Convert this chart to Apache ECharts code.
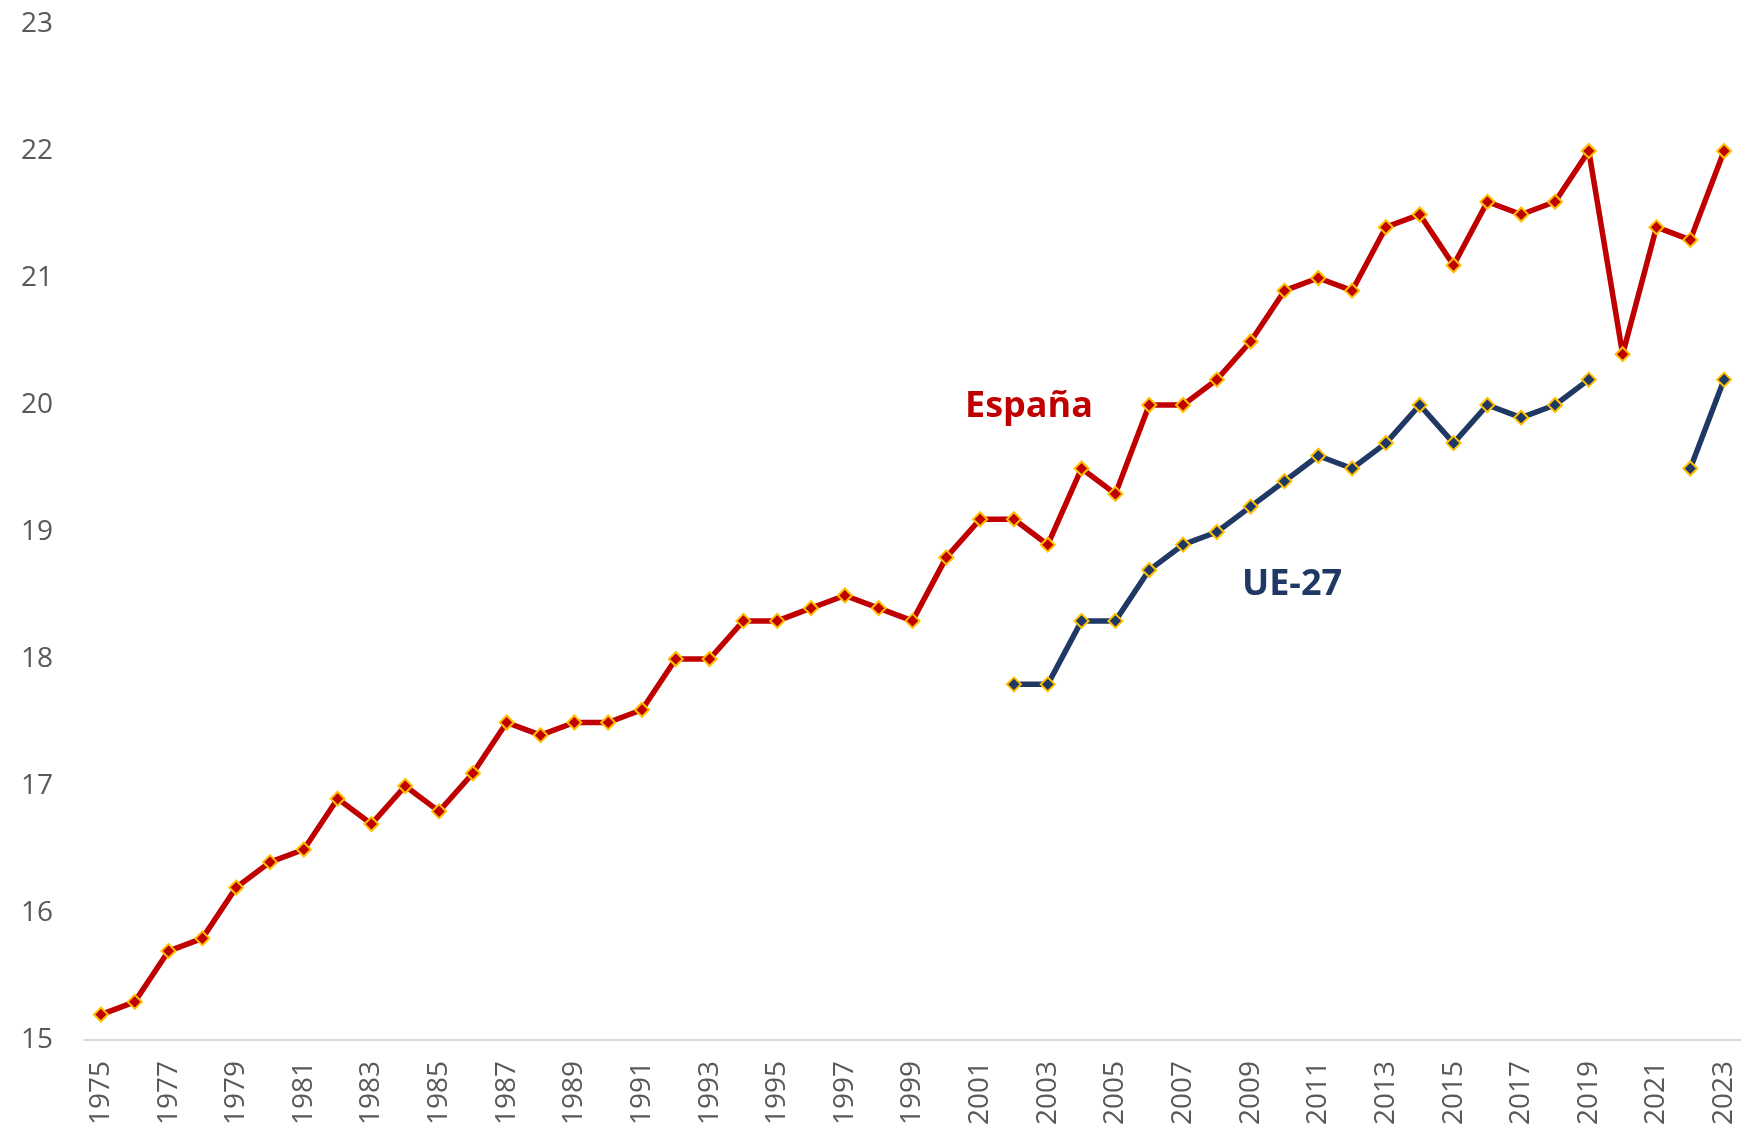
<!DOCTYPE html>
<html>
<head>
<meta charset="utf-8">
<script src="https://cdn.jsdelivr.net/npm/echarts@6/dist/echarts.min.js"></script>
<style>
html,body{margin:0;padding:0;background:#fff;}
#c{width:1741px;height:1128px;}
</style>
</head>
<body>
<div id="c"></div>
<script>
var years = [];
for (var y = 1975; y <= 2023; y++) years.push(String(y));

var espana = [15.2,15.3,15.7,15.8,16.2,16.4,16.5,16.9,16.7,17.0,
              16.8,17.1,17.5,17.4,17.5,17.5,17.6,18.0,18.0,18.3,
              18.3,18.4,18.5,18.4,18.3,18.8,19.1,19.1,18.9,19.5,
              19.3,20.0,20.0,20.2,20.5,20.9,21.0,20.9,21.4,21.5,
              21.1,21.6,21.5,21.6,22.0,20.4,21.4,21.3,22.0];

var ue27 = [null,null,null,null,null,null,null,null,null,null,
            null,null,null,null,null,null,null,null,null,null,
            null,null,null,null,null,null,null,17.8,17.8,18.3,
            18.3,18.7,18.9,19.0,19.2,19.4,19.6,19.5,19.7,20.0,
            19.7,20.0,19.9,20.0,20.2,null,null,19.5,20.2];

var yMin = 15, yMax = 23, yStep = 1;

var chart = echarts.init(document.getElementById('c'), null, {renderer:'canvas'});
var font = '"Open Sans", sans-serif';
chart.setOption({
  animation: false,
  backgroundColor: '#ffffff',
  grid: {left: 84, right: 0, top: 24, bottom: 87, containLabel: false},
  xAxis: {
    type: 'category',
    data: years,
    boundaryGap: true,
    axisLine: {show: true, lineStyle: {color: '#D9D9D9', width: 2}},
    axisTick: {show: false},
    axisLabel: {rotate: 90, interval: 1, color: '#595959', fontSize: 28, fontFamily: font, margin: 21}
  },
  yAxis: {
    type: 'value',
    min: yMin, max: yMax, interval: yStep,
    axisLine: {show: false},
    axisTick: {show: false},
    splitLine: {show: false},
    axisLabel: {color: '#595959', fontSize: 28, fontFamily: font, margin: 31}
  },
  series: [
    {
      name: 'España', type: 'line', data: espana,
      symbol: 'diamond', symbolSize: 14,
      lineStyle: {color: '#C00000', width: 5.5},
      itemStyle: {color: '#C00000', borderColor: '#FFC000', borderWidth: 2},
      z: 3
    },
    {
      name: 'UE-27', type: 'line', data: ue27,
      symbol: 'diamond', symbolSize: 14, connectNulls: false,
      lineStyle: {color: '#203864', width: 5.5},
      itemStyle: {color: '#203864', borderColor: '#FFC000', borderWidth: 2},
      z: 2
    }
  ],
  graphic: [
    {type: 'text', left: 965, top: 389, style: {text: 'España', fill: '#C00000', font: 'bold 36px "Open Sans", sans-serif'}},
    {type: 'text', left: 1242, top: 567, style: {text: 'UE-27', fill: '#203864', font: 'bold 36px "Open Sans", sans-serif'}}
  ]
});
</script>
</body>
</html>
